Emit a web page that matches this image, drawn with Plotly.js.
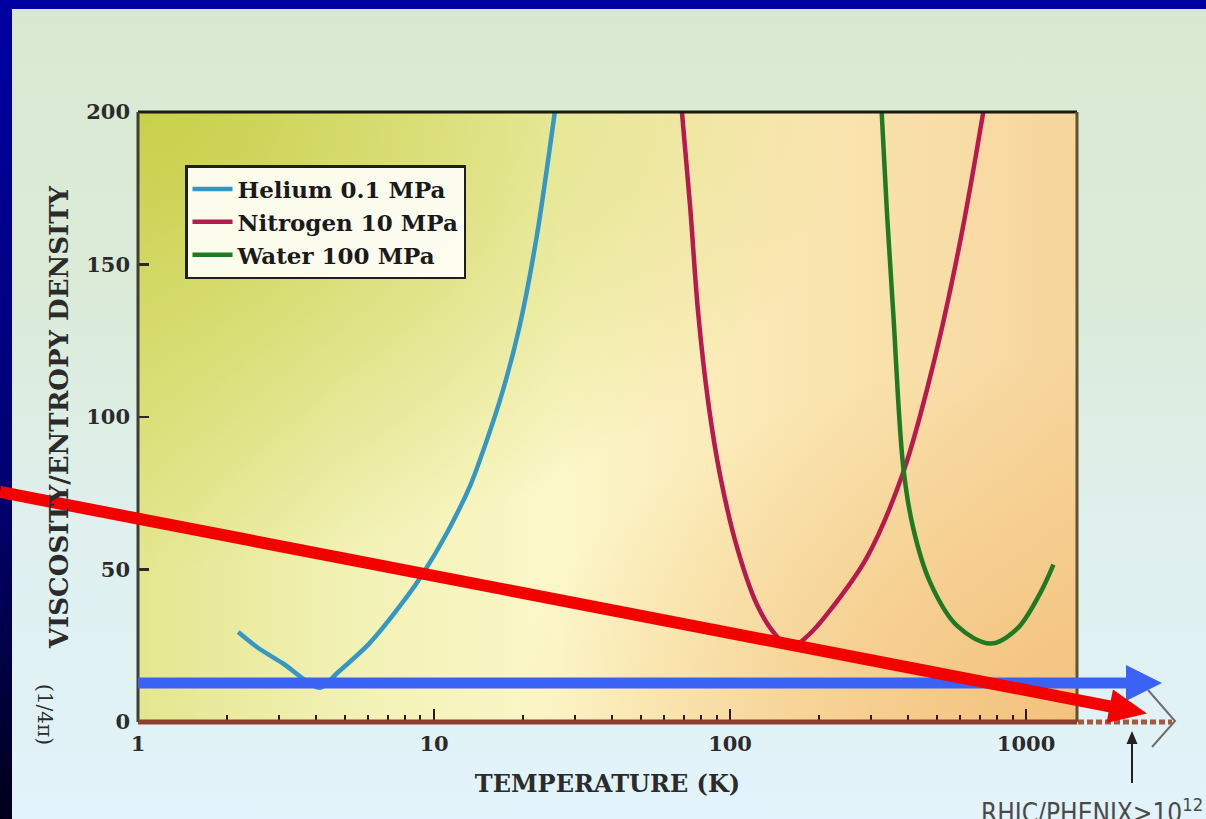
<!DOCTYPE html>
<html>
<head>
<meta charset="utf-8">
<script src="https://cdn.plot.ly/plotly-3.0.1.min.js"></script>
<style>
  html, body { margin:0; padding:0; width:1206px; height:819px; overflow:hidden; }
  #bg { position:absolute; left:0; top:0; width:1206px; height:819px;
        background: linear-gradient(to bottom, #d9e9d1 0%, #dbebd8 35%, #dff0ee 65%, #e2f3fb 100%); }
  #topbar { position:absolute; left:0; top:0; width:1206px; height:9px; background:#0000a2; }
  #leftbar { position:absolute; left:0; top:0; width:12px; height:819px;
        background: linear-gradient(to bottom, #0000a2 0%, #000070 60%, #00001a 100%); }
  #chart { position:absolute; left:0; top:0; width:1206px; height:819px; }
</style>
</head>
<body>
<div id="bg"></div>
<div id="topbar"></div>
<div id="leftbar"></div>
<div id="chart"></div>
<script>
// ---- data ----
const heliumT = [2.18, 2.52, 3.10, 4.12, 4.70, 6.04, 8.09, 9.18, 11.04, 13.26, 15.08, 17.11, 19.5, 22.3, 25.6];
const heliumV = [29.5, 24.6, 19.1, 11.2, 16.0, 25.7, 41.0, 48.7, 61.9, 77.6, 92.4, 108.9, 130.2, 160.0, 200.2];

const nitrogenT = [68.7, 73.3, 78.1, 84.5, 92.5, 105.4, 123, 140, 160, 184, 212, 290, 385, 486, 598, 717];
const nitrogenV = [200.6, 169, 133.8, 104.4, 81, 57.5, 38.7, 29.5, 24.5, 28.5, 35.2, 54, 82, 117.3, 157.2, 200];

const waterT = [325, 338, 356, 385, 416, 474, 583, 759, 931, 1115, 1237];
const waterV = [200.6, 169, 133.8, 83.3, 63.4, 45.8, 31.7, 25.7, 30.5, 42.2, 51.6];

const seriesNames = ['Helium 0.1 MPa', 'Nitrogen 10 MPa', 'Water 100 MPa'];
const xTickVals = [1, 10, 100, 1000];
const xTickText = ['1', '10', '100', '1000'];
const yTickVals = [0, 50, 100, 150, 200];
const xMinorVals = [2,3,4,5,6,7,8,9,20,30,40,50,60,70,80,90,200,300,400,500,600,700,800,900];

// ---- geometry helpers (pixel -> paper) ----
const L = 138, Rr = 1077, TOP = 112, BOT = 722;
const W = Rr - L, H = BOT - TOP;
const px = x => (x - L) / W;
const py = y => (BOT - y) / H;

function arrowShapes(x0, y0, x1, y1, lw, hl, hw, color) {
  const dx = x1 - x0, dy = y1 - y0, len = Math.hypot(dx, dy);
  const ux = dx / len, uy = dy / len, nx = -uy, ny = ux;
  const bx = x1 - hl * ux, by = y1 - hl * uy;
  const ex = x1 - (hl - 4) * ux, ey = y1 - (hl - 4) * uy;
  const c1x = bx + hw * nx, c1y = by + hw * ny, c2x = bx - hw * nx, c2y = by - hw * ny;
  return [
    {type:'line', xref:'paper', yref:'paper', x0:px(x0), y0:py(y0), x1:px(ex), y1:py(ey),
     line:{color:color, width:lw}},
    {type:'path', xref:'paper', yref:'paper',
     path:`M ${px(x1)} ${py(y1)} L ${px(c1x)} ${py(c1y)} L ${px(c2x)} ${py(c2y)} Z`,
     fillcolor:color, line:{color:color, width:0}}
  ];
}

const serif = 'DejaVu Serif, Liberation Serif, serif';

const traces = [
  {x: heliumT, y: heliumV, name: seriesNames[0], type:'scatter', mode:'lines',
   line:{color:'#3497c4', width:4.5, shape:'spline', smoothing:0.8}},
  {x: nitrogenT, y: nitrogenV, name: seriesNames[1], type:'scatter', mode:'lines',
   line:{color:'#b8194f', width:4.5, shape:'spline', smoothing:1}},
  {x: waterT, y: waterV, name: seriesNames[2], type:'scatter', mode:'lines',
   line:{color:'#1f7a22', width:4.5, shape:'spline', smoothing:1}}
];

const grad = `<svg xmlns='http://www.w3.org/2000/svg' width='939' height='610' viewBox='0 0 939 610' preserveAspectRatio='none'>
<defs>
<linearGradient id='h' x1='0' y1='0' x2='1' y2='0'>
<stop offset='0' stop-color='#e4e68e'/>
<stop offset='0.22' stop-color='#f2f1b4'/>
<stop offset='0.45' stop-color='#fcf7c9'/>
<stop offset='0.7' stop-color='#fae6b2'/>
<stop offset='1' stop-color='#f7d59c'/>
</linearGradient>
<radialGradient id='g' cx='0' cy='0' r='0.75'>
<stop offset='0' stop-color='#c8d04a' stop-opacity='1'/>
<stop offset='1' stop-color='#c8d04a' stop-opacity='0'/>
</radialGradient>
<radialGradient id='o' cx='1' cy='1' r='0.6'>
<stop offset='0' stop-color='#f3c07a' stop-opacity='0.9'/>
<stop offset='1' stop-color='#f3c07a' stop-opacity='0'/>
</radialGradient>
</defs>
<rect width='939' height='610' fill='url(#h)'/>
<rect width='939' height='610' fill='url(#g)'/>
<rect width='939' height='610' fill='url(#o)'/>
</svg>`;

const shapes = [
  // plot frame
  {type:'line', xref:'paper', yref:'paper', x0:0, x1:1, y0:1, y1:1, line:{color:'#1c1a10', width:3}},
  {type:'line', xref:'paper', yref:'paper', x0:0, x1:0, y0:0, y1:1, line:{color:'#3e3e34', width:3}},
  {type:'line', xref:'paper', yref:'paper', x0:1, x1:1, y0:0, y1:1, line:{color:'#5c5434', width:3}},
  {type:'line', xref:'paper', yref:'paper', x0:0, x1:1, y0:0, y1:0, line:{color:'#8e3f2c', width:5}},
  // dashed extension of the temperature axis
  {type:'line', xref:'paper', yref:'paper', x0:px(1078), x1:px(1172), y0:py(722), y1:py(722),
   line:{color:'#a35a3e', width:5, dash:'6px,3px'}},
  // chevron
  {type:'path', xref:'paper', yref:'paper',
   path:`M ${px(1148)} ${py(690)} L ${px(1175)} ${py(721)} L ${px(1152)} ${py(747)}`,
   line:{color:'#6e6e6e', width:2}},
  // small up arrow
  {type:'line', xref:'paper', yref:'paper', x0:px(1132), x1:px(1132), y0:py(783), y1:py(740),
   line:{color:'#222', width:2}},
  {type:'path', xref:'paper', yref:'paper',
   path:`M ${px(1132)} ${py(731)} L ${px(1126.5)} ${py(744)} L ${px(1137.5)} ${py(744)} Z`,
   fillcolor:'#222', line:{color:'#222', width:0}},
  ...arrowShapes(138, 683, 1162, 683, 11, 36, 18, '#3a62f5'),
  ...arrowShapes(0, 492, 1147, 713.5, 12, 38, 17, '#f40000')
];

const layout = {
  width: 1206, height: 819,
  margin: {l: L, r: 1206 - Rr, t: TOP, b: 819 - BOT, pad: 0},
  paper_bgcolor: 'rgba(0,0,0,0)',
  plot_bgcolor: 'rgba(0,0,0,0)',
  showlegend: true,
  legend: {
    x: px(185), y: py(165), xanchor:'left', yanchor:'top',
    bgcolor:'rgba(255,255,248,0.92)', bordercolor:'#1e1e1e', borderwidth:2.5,
    font:{family: serif, size: 23, color:'#1a1a1a', weight:'bold'},
    itemwidth: 40, tracegroupgap: 0
  },
  xaxis: {
    type:'log', range:[0, Math.log10(1486)],
    showline:false, zeroline:false, showgrid:false,
    tickmode:'array', tickvals: xTickVals, ticktext: xTickText,
    ticks:'inside', ticklen:13, tickwidth:2, tickcolor:'#2a1a10',
    ticklabelstandoff: 7,
    minor:{tickmode:'array', tickvals: xMinorVals, ticks:'inside', ticklen:7, tickwidth:2, tickcolor:'#2a1a10', showgrid:false},
    tickfont:{family: serif, size: 21, color:'#2b2b2b', weight:'bold'},
    title:{text:'TEMPERATURE (K)', font:{family: serif, size: 24, color:'#2b2b2b', weight:'bold'}, standoff: 20}
  },
  yaxis: {
    range:[0, 200],
    showline:false, zeroline:false, showgrid:false,
    tickmode:'array', tickvals: yTickVals,
    ticks:'inside', ticklen:11, tickwidth:2.5, tickcolor:'#2a2a20',
    ticklabelstandoff: 7,
    tickfont:{family: serif, size: 21, color:'#2b2b2b', weight:'bold'},
    title:{text:'VISCOSITY/ENTROPY DENSITY', font:{family: serif, size: 26, color:'#2b2b2b', weight:'bold'}, standoff: 10}
  },
  images: [{
    source: 'data:image/svg+xml;charset=utf-8,' + encodeURIComponent(grad),
    xref:'paper', yref:'paper', x:0, y:1, sizex:1, sizey:1,
    xanchor:'left', yanchor:'top', sizing:'stretch', layer:'below'
  }],
  shapes: shapes,
  annotations: [
    {xref:'paper', yref:'paper', x:px(45), y:py(714), xanchor:'center', yanchor:'middle',
     text:'(1/4π)', showarrow:false,
     textangle:90, font:{family: serif, size: 20, color:'#2b2b2b'}},
    {xref:'paper', yref:'paper', x:px(979), y:py(792), xanchor:'left', yanchor:'top',
     text:'RHIC/PHENIX&gt;10<sup>12</sup> K', showarrow:false,
     font:{family:'Liberation Sans Narrow, DejaVu Sans Condensed, Liberation Sans, sans-serif', size: 26, color:'#4a4a4a'}}
  ]
};

Plotly.newPlot('chart', traces, layout, {displayModeBar:false, staticPlot:true});
</script>
</body>
</html>
